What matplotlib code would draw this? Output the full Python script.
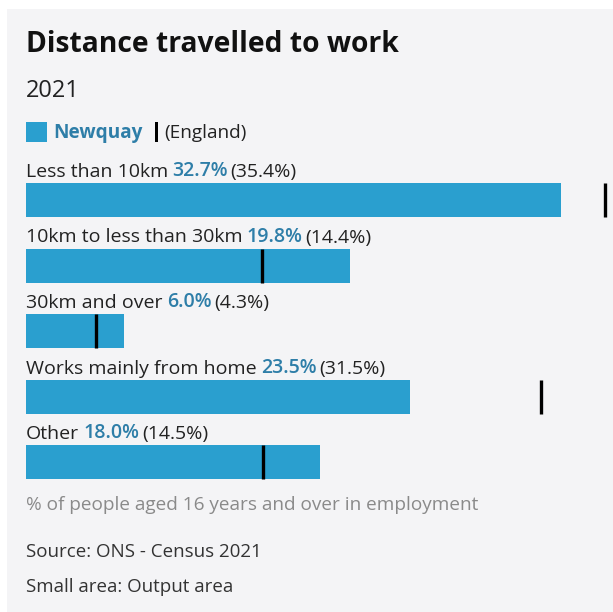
import matplotlib.pyplot as plt
from matplotlib.patches import Rectangle

categories = [
    "Less than 10km",
    "10km to less than 30km",
    "30km and over",
    "Works mainly from home",
    "Other",
]
newquay = [32.7, 19.8, 6.0, 23.5, 18.0]
england = [35.4, 14.4, 4.3, 31.5, 14.5]

BAR_BLUE = "#2a9fcf"
VALUE_BLUE = "#2e7ea8"
DARK = "#222222"
GREY = "#8a8a8a"
PANEL = "#f4f4f6"

W, H = 613, 612
plt.rcParams["font.family"] = ["Open Sans", "DejaVu Sans"]

fig = plt.figure(figsize=(W / 100, H / 100), dpi=100)
fig.patch.set_facecolor("white")
fig.patches.append(Rectangle((7 / W, 0), 1, 1 - 9 / H, transform=fig.transFigure,
                             facecolor=PANEL, edgecolor="none", zorder=-5))


def fy(py):
    # pixel row from the top -> figure fraction
    return 1 - py / H


# headings
fig.text(26 / W, fy(44), "Distance travelled to work", fontsize=20.3, fontweight="bold",
         color="#111111", va="center")
fig.text(26 / W, fy(91), "2021", fontsize=17, color=DARK, va="center")

# legend
fig.patches.append(Rectangle((26 / W, fy(142)), 21 / W, 20 / H, transform=fig.transFigure,
                             facecolor=BAR_BLUE, edgecolor="none"))
fig.text(53 / W, fy(133), "Newquay", fontsize=13.7, fontweight="bold", color=VALUE_BLUE, va="center")
fig.patches.append(Rectangle((155 / W, fy(142)), 3 / W, 20 / H, transform=fig.transFigure,
                             facecolor="black", edgecolor="none"))
fig.text(164 / W, fy(133), "(England)", fontsize=13.7, color=DARK, va="center")

# bar area: x from 26px, 16.36px per percent; rows 65.5px apart, first centre at y=200px
px_per_pct = 16.36
row_px = 65.5
top_px, bot_px = 140, 490
ax = fig.add_axes([26 / W, fy(bot_px), (W - 26) / W, (bot_px - top_px) / H])
ax.set_xlim(0, (W - 26) / px_per_pct)
ax.set_ylim((bot_px - 200) / row_px, (top_px - 200) / row_px)
ax.axis("off")

rows = range(len(categories))
bar_h = 34 / row_px
ax.barh(list(rows), newquay, height=bar_h, color=BAR_BLUE, edgecolor="none")
ax.vlines(england, [r - bar_h / 2 for r in rows], [r + bar_h / 2 for r in rows],
          color="black", linewidth=2.4, clip_on=False)

for r, cat, nv, ev in zip(rows, categories, newquay, england):
    y = r - 28 / row_px
    t1 = ax.text(0, y, cat, fontsize=14, color=DARK, va="center", ha="left")
    t2 = ax.annotate(f"{nv:.1f}%", xy=(1, 0), xycoords=t1, xytext=(3, 0),
                     textcoords="offset points", fontsize=14, fontweight="semibold",
                     color=VALUE_BLUE, va="bottom", ha="left")
    ax.annotate(f"({ev:.1f}%)", xy=(1, 0), xycoords=t2, xytext=(2, 0),
                textcoords="offset points", fontsize=14, color=DARK,
                va="bottom", ha="left")

# footnotes
fig.text(26 / W, fy(505), "% of people aged 16 years and over in employment",
         fontsize=13.7, color=GREY, va="center")
fig.text(26 / W, fy(552), "Source: ONS - Census 2021", fontsize=13.5, color="#333333", va="center")
fig.text(26 / W, fy(587), "Small area: Output area", fontsize=13.5, color="#333333", va="center")

fig.savefig("out.png", dpi=100, facecolor=fig.get_facecolor())
